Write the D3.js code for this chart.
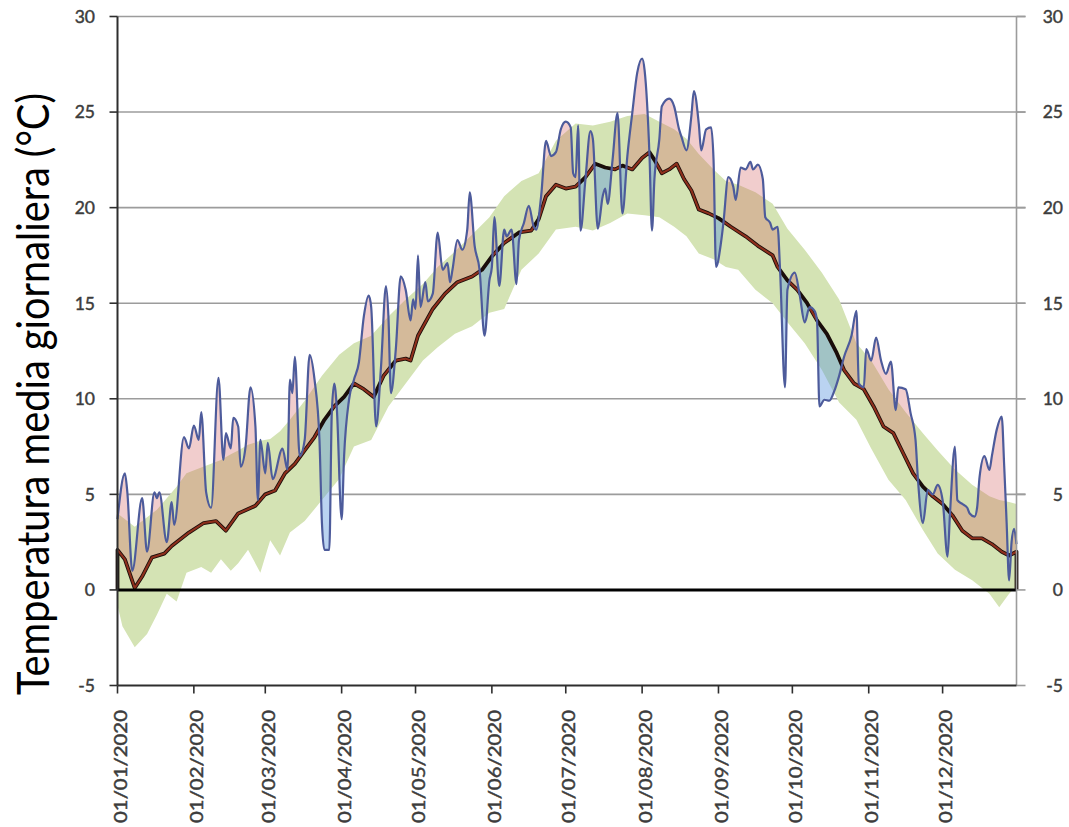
<!DOCTYPE html>
<html>
<head>
<meta charset="utf-8">
<script src="https://cdn.jsdelivr.net/npm/d3@7"></script>
<style>
  body { margin: 0; background: #fff; }
  svg { display: block; }
</style>
</head>
<body>
<svg id="chart" width="1069" height="827"></svg>
<script>
// Daily mean temperature 2020 (day of year, °C)
const obsDays = [0,3,4,6,10,12,15,16,17,20,22,23,27,29,31,33,34,36,38,41,43,44,46,47,49,50,52,54,56,57,58,60,61,63,67,69,70,71,72,74,76,78,80,82,83,84,86,87,88,89,91,92,94,96,98,100,102,103,105,107,109,110,111,113,115,117,119,120,121,122,123,125,126,128,130,132,134,135,136,138,140,142,143,145,147,149,151,152,153,155,157,158,160,162,163,165,167,169,170,172,174,176,178,180,182,184,185,186,187,188,190,192,193,195,197,198,199,201,203,205,207,209,211,213,214,216,217,218,220,221,224,226,228,229,231,233,234,236,237,239,241,242,243,245,246,248,250,251,253,255,257,258,260,262,263,265,266,268,269,271,272,275,277,279,281,283,284,285,287,289,291,293,295,298,300,301,303,304,306,308,310,312,314,316,317,320,322,324,325,327,329,331,333,335,337,338,340,341,343,345,346,348,349,350,352,354,355,357,359,360,361,362,363,364,365];
const obsTemp = [3.7,6.1,5.1,1.0,4.8,2.0,5.1,4.8,5.1,2.5,4.6,3.4,8.0,7.4,8.6,7.85,9.3,5.1,4.3,11.1,6.8,8.2,7.4,9.0,8.55,6.45,7.5,10.6,8.55,4.7,7.85,6.1,7.7,5.8,7.4,6.3,11.0,10.3,12.2,7.0,7.85,12.3,11.0,7.85,3.5,2.1,2.1,9.25,10.8,9.6,3.7,7.0,9.95,11.0,11.9,14.3,15.4,14.8,8.55,11.7,15.9,14.3,10.3,12.6,16.4,15.7,14.1,15.2,14.7,17.5,14.8,16.1,15.1,15.5,18.7,16.75,17.1,16.1,16.75,18.3,17.8,18.85,20.8,18.0,16.75,13.3,16.2,16.9,19.5,15.9,18.85,18.5,18.85,16.0,18.3,19.2,20.1,19.0,18.85,20.6,23.5,22.7,22.9,24.1,24.5,24.2,21.8,21.6,24.3,18.8,21.5,24.0,23.6,18.9,20.6,21.0,20.2,22.5,24.95,19.7,22.7,24.95,27.05,27.8,27.2,22.7,18.8,21.5,23.6,25.3,25.7,25.3,24.1,23.7,23.0,24.8,26.1,24.4,23.0,24.1,24.2,22.5,16.9,18.15,19.2,21.6,21.1,20.4,22.1,22.0,22.4,22.0,22.25,21.5,19.5,19.2,18.85,19.0,16.75,10.6,15.7,16.6,15.4,14.0,14.8,14.6,14.1,9.6,9.95,9.9,10.4,11.2,12.2,13.3,14.6,10.8,10.6,12.6,12.0,13.2,12.0,11.3,11.95,9.4,10.6,10.5,9.25,7.85,5.76,3.5,5.24,5.0,5.5,4.7,1.74,4.0,7.5,4.7,4.5,4.3,4.0,3.84,4.3,5.9,7.0,6.28,7.0,8.4,9.07,6.5,3.5,0.5,2.5,3.2,2.4];

// Climatological daily mean (day of year, °C)
const normDays = [0,3,7,10,14,19,22,29,35,40,44,49,56,60,64,68,72,76,80,84,88,92,96,100,104,108,113,117,119,122,128,133,138,144,148,152,157,163,168,171,174,178,182,186,190,194,198,202,205,209,213,216,218,221,224,227,230,233,236,240,244,249,255,260,266,268,272,276,280,284,288,292,295,299,303,307,311,315,319,323,327,331,335,339,343,347,351,355,359,362,365];
const normTemp = [2.1,1.6,0.1,0.7,1.7,1.9,2.3,3.0,3.5,3.6,3.1,4.0,4.4,5.0,5.2,6.1,6.6,7.3,8.0,8.9,9.6,10.1,10.8,10.5,10.1,11.2,12.0,12.1,12.0,13.3,14.7,15.5,16.1,16.4,16.75,17.45,18.15,18.7,18.8,19.4,20.6,21.2,21.0,21.1,21.6,22.3,22.1,22.0,22.2,22.0,22.6,22.9,22.5,21.8,22.0,22.3,21.5,20.9,19.9,19.7,19.45,19.0,18.5,18.0,17.5,16.9,16.2,15.7,15.0,14.1,13.4,12.4,11.5,10.8,10.5,9.6,8.55,8.2,7.15,6.1,5.4,4.9,4.5,3.9,3.1,2.7,2.7,2.4,2.0,1.8,2.0];

// Normal range band (day of year, lower / upper °C)
const bandDays = [0,2,7,12,16,20,24,28,34,38,42,46,49,53,58,62,66,70,76,83,90,96,103,110,117,124,130,137,144,151,157,164,171,178,186,193,200,207,214,220,226,231,236,242,247,252,259,266,272,279,286,293,300,306,313,320,327,333,340,347,354,358,362,365];
const bandLow  = [-0.8,-1.9,-3.0,-2.3,-1.3,-0.2,-0.6,0.9,1.2,0.9,1.6,1.0,1.4,2.1,0.9,2.6,1.8,3.0,3.6,4.7,5.8,7.5,7.85,9.6,10.8,12.0,12.7,13.4,13.8,14.5,14.7,16.75,17.6,18.85,19.0,18.8,19.2,19.7,19.6,19.5,19.0,18.5,17.6,17.3,16.9,16.75,15.7,15.0,14.0,12.9,11.5,9.8,8.9,7.4,5.76,4.7,3.14,1.9,1.05,0.5,-0.2,-0.9,-0.2,0.2];
const bandHigh = [4.0,3.8,3.3,3.8,4.2,4.8,5.4,6.1,6.4,6.6,6.8,7.1,7.3,7.6,7.8,7.9,8.3,8.9,9.9,11.2,12.3,12.9,13.3,14.3,15.2,16.0,16.9,17.7,18.6,19.5,20.6,21.4,21.8,23.5,24.4,24.3,24.5,24.8,24.9,24.5,24.1,23.6,22.8,22.0,21.4,21.2,20.8,20.2,18.9,17.8,16.6,15.2,12.9,12.0,10.5,9.3,8.2,7.3,6.3,5.5,4.9,4.7,4.6,4.5];

const yTicks = [-5, 0, 5, 10, 15, 20, 25, 30];
const monthLabels = ["01/01/2020","01/02/2020","01/03/2020","01/04/2020","01/05/2020","01/06/2020",
                     "01/07/2020","01/08/2020","01/09/2020","01/10/2020","01/11/2020","01/12/2020"];
const yTitle = "Temperatura media giornaliera (°C)";

const svg = d3.select("#chart");
const W = 1069, H = 827;
const plot = { left: 117.5, right: 1016.5, top: 16.5, bottom: 685.5 };

const t0 = Date.UTC(2020, 0, 1);
const toDate = d => new Date(t0 + d * 864e5);
const parseDay = d3.utcParse("%d/%m/%Y");

const x = d3.scaleUtc().domain([toDate(0), toDate(365)]).range([plot.left, plot.right]);
const y = d3.scaleLinear().domain([-5, 30]).range([plot.bottom, plot.top]);

const obs = obsDays.map((d, i) => ({ date: toDate(d), v: obsTemp[i] }));
const norm = normDays.map((d, i) => ({ date: toDate(d), v: normTemp[i] }));
const band = bandDays.map((d, i) => ({ date: toDate(d), lo: bandLow[i], hi: bandHigh[i] }));

const obsCurve = d3.curveMonotoneX;
const defs = svg.append("defs");

// Region below / above the observed line, used to split the difference fill
defs.append("clipPath").attr("id", "below-obs").append("path")
  .attr("d", d3.area().curve(obsCurve).x(d => x(d.date)).y0(H).y1(d => y(d.v))(obs));
defs.append("clipPath").attr("id", "above-obs").append("path")
  .attr("d", d3.area().curve(obsCurve).x(d => x(d.date)).y0(0).y1(d => y(d.v))(obs));

const font = "Lato, 'Open Sans', sans-serif";
const labelStyle = sel => sel
  .attr("font-family", font).attr("font-size", 17.5)
  .attr("fill", "#3c3c3c").attr("stroke", "#3c3c3c").attr("stroke-width", 0.45);

// Horizontal gridlines
const grid = svg.append("g");
yTicks.filter(t => t > 0).forEach(t => {
  grid.append("line")
    .attr("x1", plot.left).attr("x2", plot.right + 9)
    .attr("y1", y(t)).attr("y2", y(t))
    .attr("stroke", "#9c9c9c").attr("stroke-width", 1.6);
});

const warmArea = d3.area().x(d => x(d.date)).y0(d => y(d.v)).y1(0);
const coolArea = d3.area().x(d => x(d.date)).y0(d => y(d.v)).y1(H);

// White underlay so gridlines do not show through the difference fill
svg.append("path").attr("d", warmArea(norm)).attr("fill", "#fff").attr("clip-path", "url(#below-obs)");
svg.append("path").attr("d", coolArea(norm)).attr("fill", "#fff").attr("clip-path", "url(#above-obs)");

// Normal range band
svg.append("path")
  .attr("d", d3.area().x(d => x(d.date)).y0(d => y(d.lo)).y1(d => y(d.hi))(band))
  .attr("fill", "#d4e3b4");

// Above-normal (warm) and below-normal (cool) fill
svg.append("path").attr("d", warmArea(norm))
  .attr("fill", "rgba(212,98,98,0.32)").attr("clip-path", "url(#below-obs)");
svg.append("path").attr("d", coolArea(norm))
  .attr("fill", "rgba(90,150,222,0.42)").attr("clip-path", "url(#above-obs)");

// Climatological mean line: dark outline, brown core where the year runs warmer
const normPts = [{ date: toDate(0), v: 0 }, ...norm, { date: toDate(365), v: 0 }];
const normLine = d3.line().x(d => x(d.date)).y(d => y(d.v));
svg.append("path").attr("d", normLine(normPts))
  .attr("fill", "none").attr("stroke", "#1a0d0a").attr("stroke-width", 3.8).attr("stroke-linejoin", "round");
svg.append("path").attr("d", normLine(norm))
  .attr("fill", "none").attr("stroke", "#8e2f1c").attr("stroke-width", 2.1)
  .attr("stroke-linejoin", "round").attr("clip-path", "url(#below-obs)");

// Observed daily mean
svg.append("path")
  .attr("d", d3.line().curve(obsCurve).x(d => x(d.date)).y(d => y(d.v))(obs))
  .attr("fill", "none").attr("stroke", "#4d5b9b").attr("stroke-width", 2.2).attr("stroke-linejoin", "round");

// Zero line
svg.append("line")
  .attr("x1", plot.left).attr("x2", plot.right)
  .attr("y1", y(0)).attr("y2", y(0))
  .attr("stroke", "#000").attr("stroke-width", 3);

// Right (secondary) axis
const right = svg.append("g");
right.append("line")
  .attr("x1", plot.right).attr("x2", plot.right)
  .attr("y1", plot.top).attr("y2", plot.bottom)
  .attr("stroke", "#9c9c9c").attr("stroke-width", 1.6);
yTicks.forEach(t => {
  right.append("line")
    .attr("x1", plot.right).attr("x2", plot.right + 9)
    .attr("y1", y(t)).attr("y2", y(t))
    .attr("stroke", "#9c9c9c").attr("stroke-width", 1.6);
  right.append("text")
    .attr("x", 1063).attr("y", y(t)).attr("dy", "0.36em")
    .attr("text-anchor", "end")
    .call(labelStyle).text(t);
});

// Left axis
const left = svg.append("g");
left.append("line")
  .attr("x1", plot.left).attr("x2", plot.left)
  .attr("y1", plot.top).attr("y2", plot.bottom)
  .attr("stroke", "#2e2e2e").attr("stroke-width", 2);
yTicks.forEach(t => {
  left.append("line")
    .attr("x1", plot.left - 8).attr("x2", plot.left)
    .attr("y1", y(t)).attr("y2", y(t))
    .attr("stroke", "#2e2e2e").attr("stroke-width", 1.6);
  left.append("text")
    .attr("x", 95).attr("y", y(t)).attr("dy", "0.36em")
    .attr("text-anchor", "end")
    .call(labelStyle).text(t);
});

// Bottom axis at -5 with month ticks
const bottom = svg.append("g");
bottom.append("line")
  .attr("x1", plot.left).attr("x2", plot.right)
  .attr("y1", plot.bottom).attr("y2", plot.bottom)
  .attr("stroke", "#2e2e2e").attr("stroke-width", 2.2);
monthLabels.forEach(lbl => {
  const px = x(parseDay(lbl));
  bottom.append("line")
    .attr("x1", px).attr("x2", px)
    .attr("y1", plot.bottom).attr("y2", plot.bottom + 8)
    .attr("stroke", "#2e2e2e").attr("stroke-width", 1.6);
  bottom.append("text")
    .attr("transform", `translate(${px + 9.5},710) rotate(-90)`)
    .attr("text-anchor", "end")
    .call(labelStyle).attr("font-size", 18)
    .attr("textLength", 113).attr("lengthAdjust", "spacingAndGlyphs")
    .text(lbl);
});

// Y-axis title
svg.append("text")
  .attr("transform", "translate(49,394) rotate(-90)")
  .attr("text-anchor", "middle")
  .attr("font-family", font).attr("font-size", 45)
  .attr("textLength", 602).attr("lengthAdjust", "spacingAndGlyphs")
  .attr("fill", "#000").text(yTitle);
</script>
</body>
</html>
